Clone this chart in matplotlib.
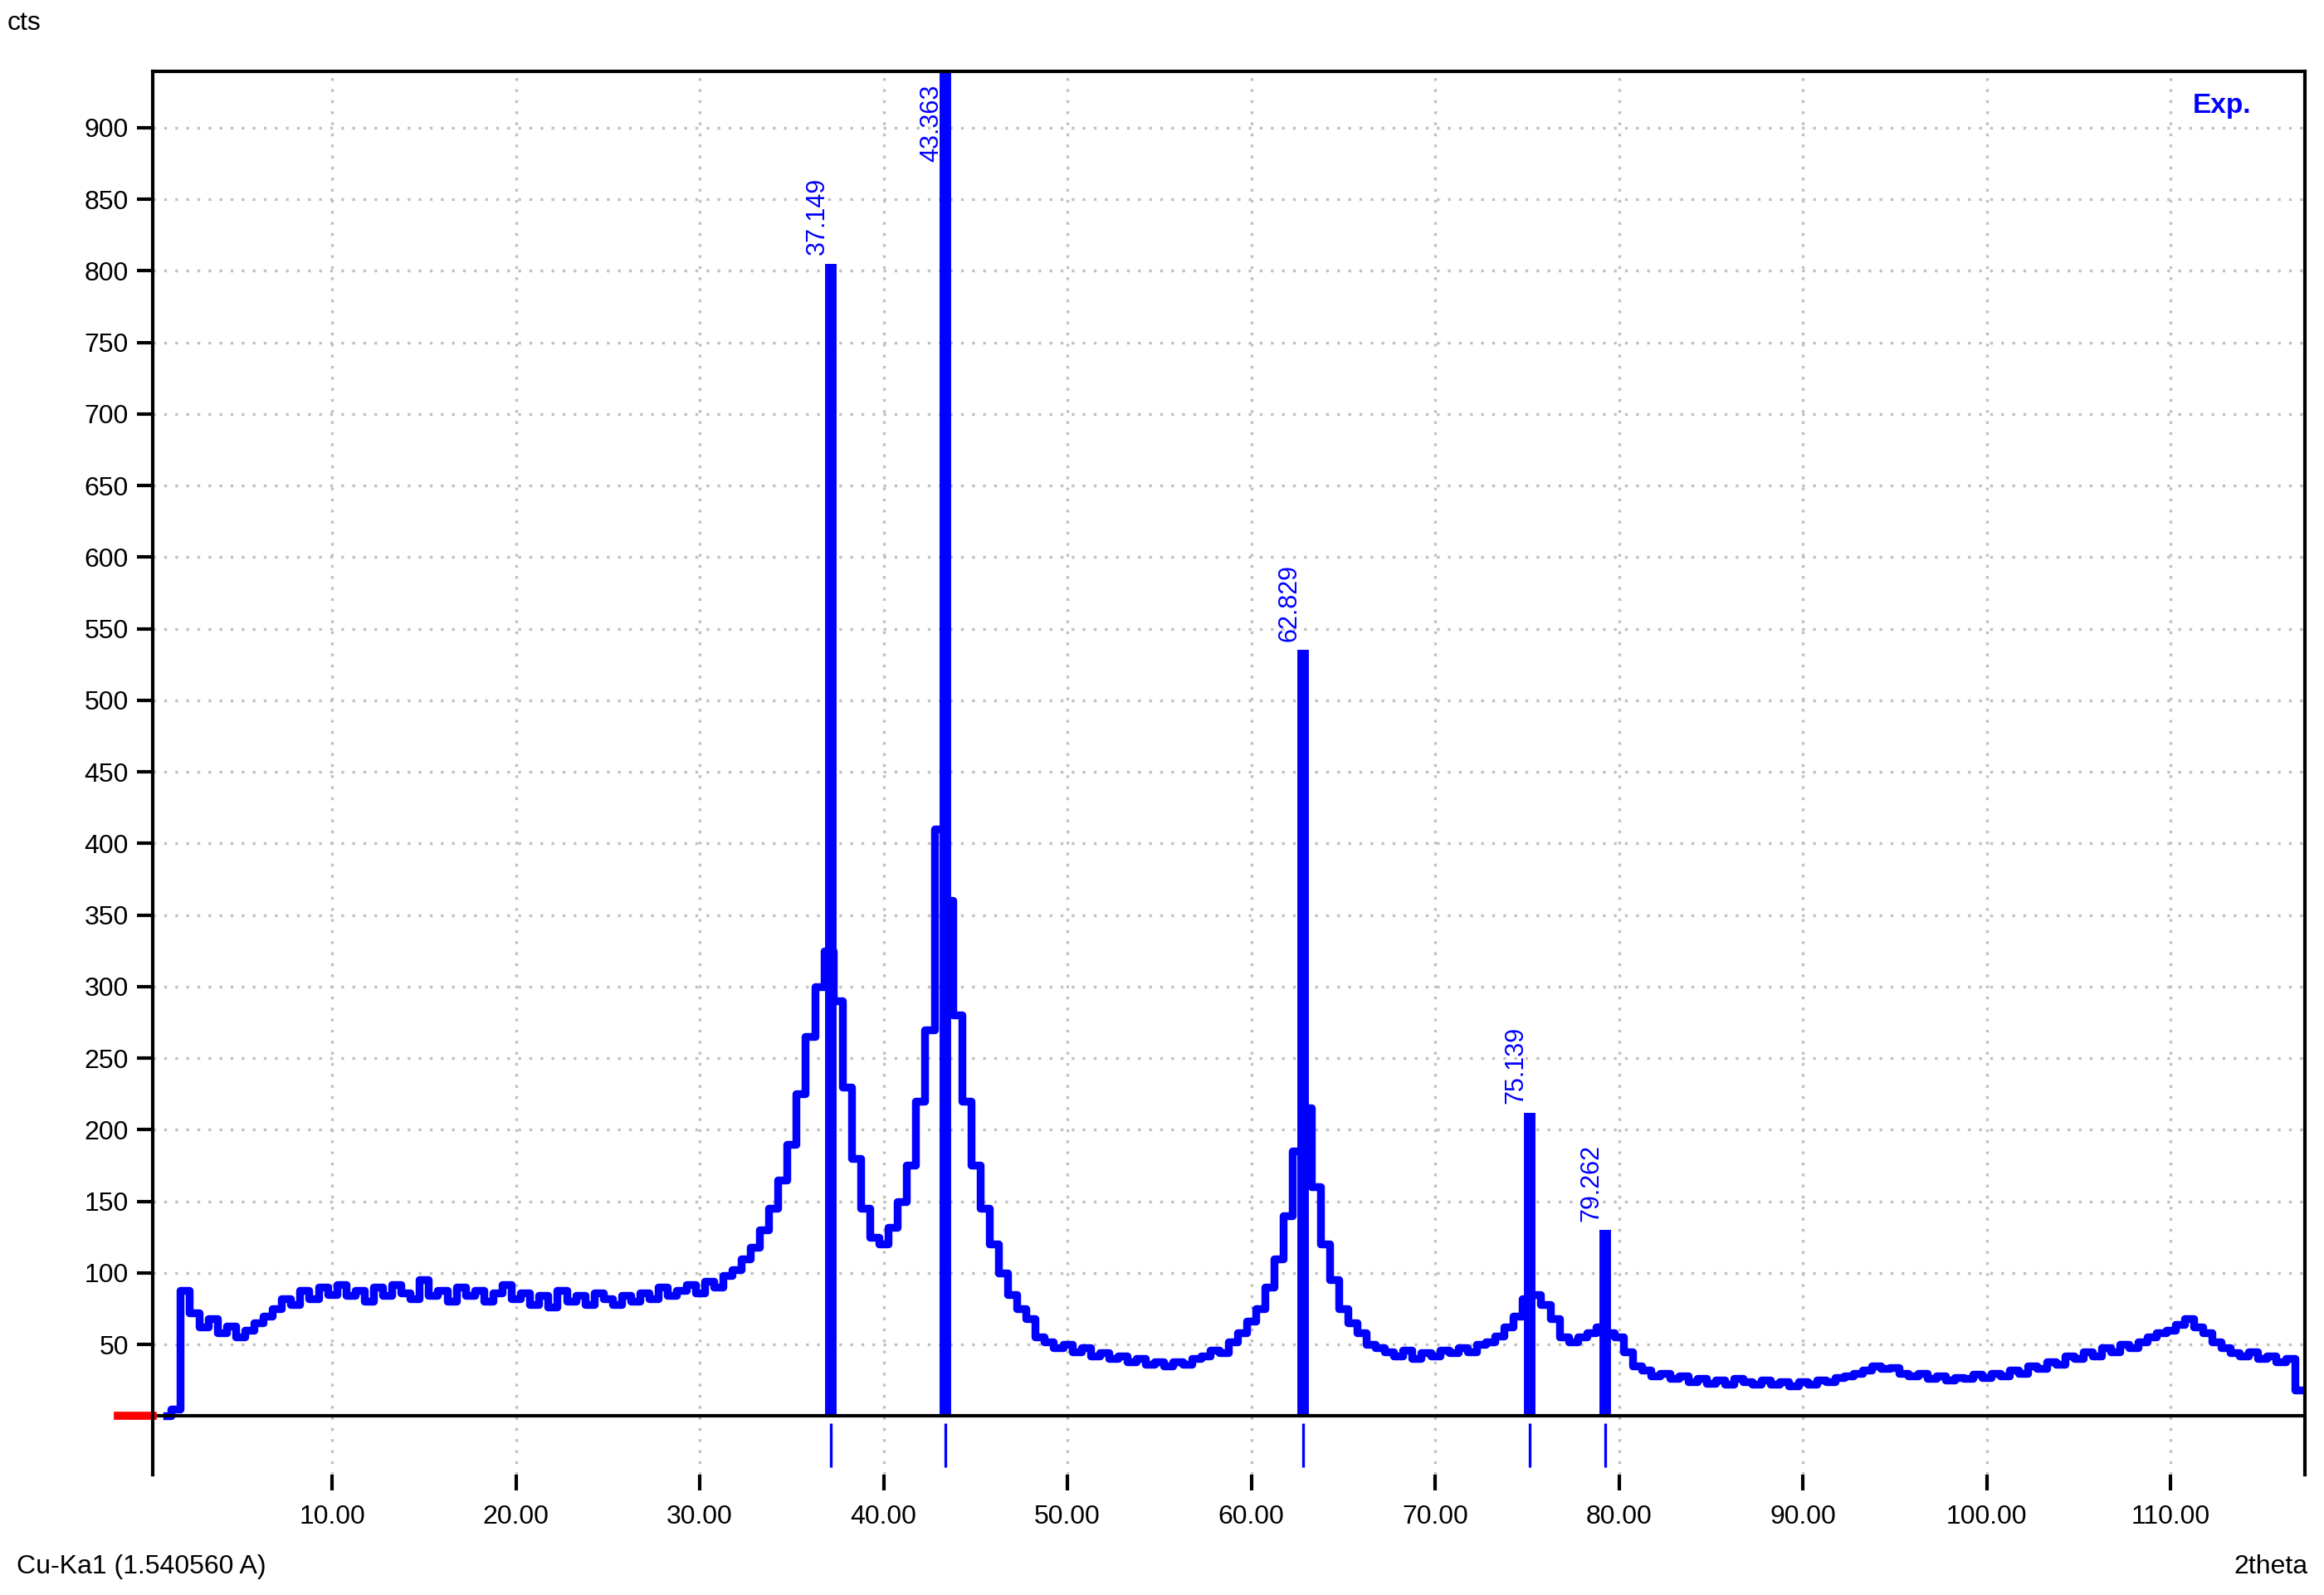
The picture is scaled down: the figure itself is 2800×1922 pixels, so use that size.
import numpy as np
import matplotlib.pyplot as plt

plt.rcParams['font.family'] = ['Liberation Sans', 'DejaVu Sans']

# measured profile, 2theta from 1.0 step 0.5
theta_start = 1.0
theta_step = 0.5
counts = [0, 5, 88, 72, 62, 68, 58, 63, 55, 60, 65, 70, 75, 82, 78, 88, 82, 90,
          85, 92, 84, 88, 80, 90, 84, 92, 86, 82, 95, 84, 88, 80, 90, 84, 88, 80,
          86, 92, 82, 86, 78, 84, 76, 88, 80, 84, 78, 86, 82, 78, 84, 80, 86, 82,
          90, 84, 88, 92, 86, 94, 90, 98, 102, 110, 118, 130, 145, 165, 190, 225,
          265, 300, 325, 290, 230, 180, 145, 125, 120, 132, 150, 175, 220, 270,
          410, 360, 280, 220, 175, 145, 120, 100, 85, 75, 68, 55, 52, 48, 50, 45,
          48, 42, 44, 40, 42, 38, 40, 36, 38, 35, 38, 36, 40, 42, 46, 44, 52, 58,
          66, 75, 90, 110, 140, 185, 215, 160, 120, 95, 75, 65, 58, 50, 48, 45,
          42, 46, 40, 44, 42, 46, 44, 48, 45, 50, 52, 56, 62, 70, 82, 85, 78, 68,
          55, 52, 55, 58, 62, 58, 55, 45, 35, 32, 28, 30, 26, 28, 24, 26, 23, 25,
          22, 26, 24, 22, 25, 22, 24, 21, 24, 22, 25, 24, 27, 28, 30, 32, 35, 33,
          34, 30, 28, 30, 26, 28, 25, 27, 26, 29, 27, 30, 28, 32, 30, 35, 33, 38,
          36, 42, 40, 45, 42, 48, 45, 50, 48, 52, 55, 58, 60, 64, 68, 62, 58, 52,
          48, 44, 42, 45, 40, 42, 38, 40, 18]

peak_pos = [37.149, 43.363, 62.829, 75.139, 79.262]
peak_height = [805, 960, 535, 212, 130]
peak_labels = ['37.149', '43.363', '62.829', '75.139', '79.262']

theta = theta_start + theta_step * np.arange(len(counts))
blue = '#0000ff'

fig = plt.figure(figsize=(14, 9.61), dpi=200)
ax = fig.add_axes([0.0657, 0.0754, 0.926, 0.8796])

ax.step(theta, counts, where='mid', color=blue, lw=3.4)
ax.vlines(peak_pos, 0, peak_height, color=blue, lw=5)
ax.vlines(peak_pos, -5, -36, color=blue, lw=1.2)
for p, h, lab in zip(peak_pos, peak_height, peak_labels):
    ax.text(p - 0.75, min(h, 870) + 6, lab, rotation=90, color=blue,
            ha='center', va='bottom', fontsize=11)

ax.axhline(0, color='black', lw=1.5)
ax.plot([-0.016, 0], [0.042, 0.042], transform=ax.transAxes, color='red',
        lw=3.5, clip_on=False)

ax.set_xlim(0.24, 117.3)
ax.set_ylim(-41, 939)
ax.set_xticks(np.arange(10, 111, 10))
ax.set_xticklabels(['%.2f' % v for v in np.arange(10, 111, 10)])
ax.set_yticks(np.arange(50, 901, 50))
ax.tick_params(axis='both', direction='out', length=7, width=1.5, labelsize=11.5)
ax.tick_params(axis='x', pad=6)
ax.grid(True, color='#c0c0c0', linestyle=(0, (1, 3)), lw=1.2)
ax.spines['bottom'].set_visible(False)
for s in ['left', 'top', 'right']:
    ax.spines[s].set_linewidth(1.5)

ax.text(0.975, 0.985, 'Exp.', transform=ax.transAxes, color=blue,
        fontweight='bold', fontsize=12, ha='right', va='top')
fig.text(0.003, 0.993, 'cts', fontsize=11.5, va='top')
fig.text(0.007, 0.010, 'Cu-Ka1 (1.540560 A)', fontsize=11.5, va='bottom')
fig.text(0.993, 0.010, '2theta', fontsize=11.5, va='bottom', ha='right')

fig.savefig('out.png')
